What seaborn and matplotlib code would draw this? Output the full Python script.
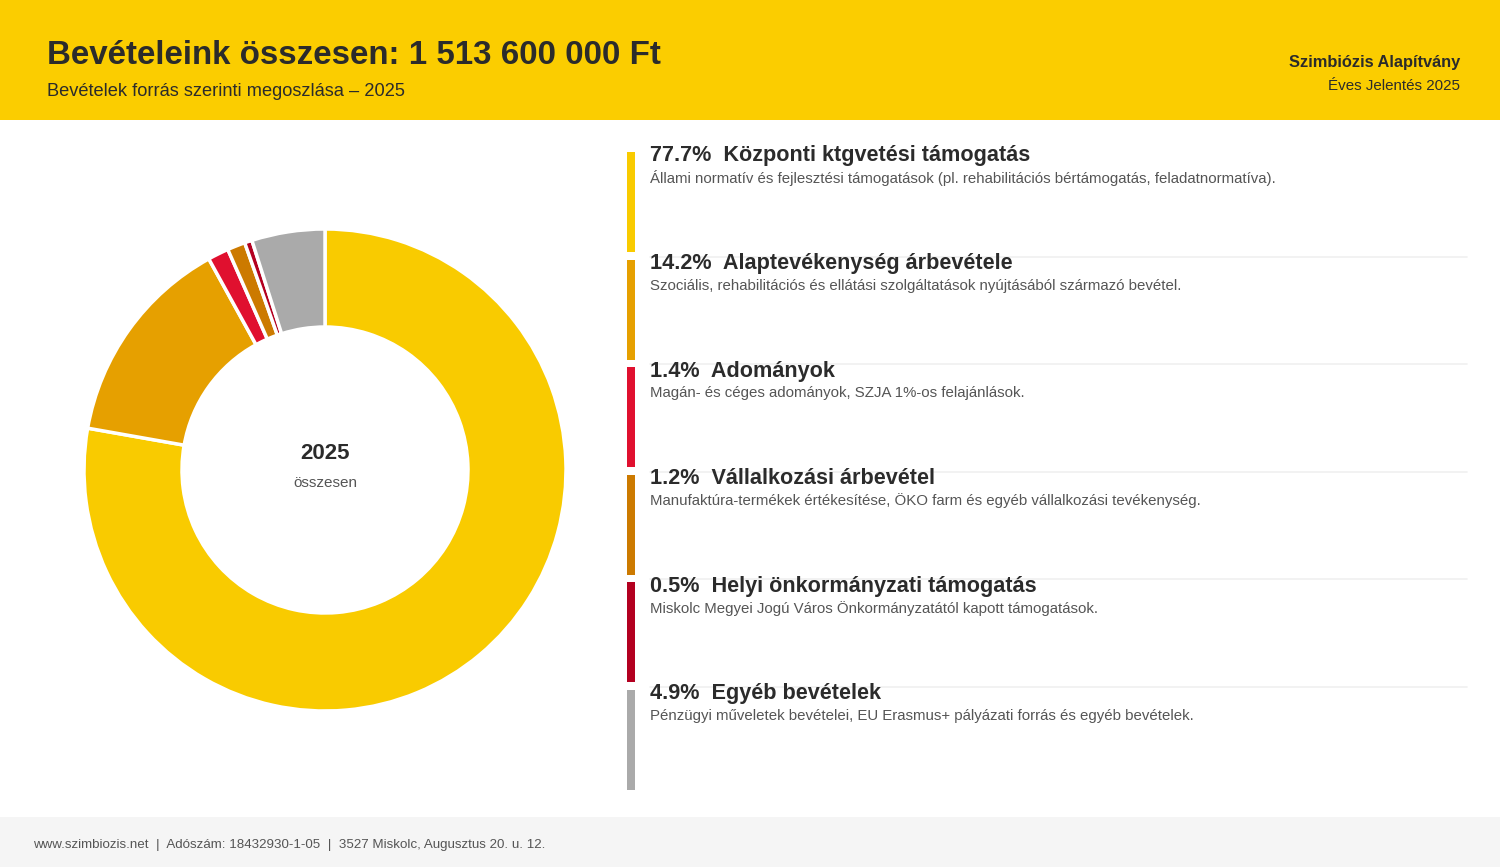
import matplotlib
matplotlib.use("Agg")
import matplotlib.pyplot as plt
from matplotlib.patches import Rectangle
from matplotlib.lines import Line2D
import seaborn as sns

# ---- data ----
categories = [
    "Központi ktgvetési támogatás",
    "Alaptevékenység árbevétele",
    "Adományok",
    "Vállalkozási árbevétel",
    "Helyi önkormányzati támogatás",
    "Egyéb bevételek",
]
shares = [77.7, 14.2, 1.4, 1.2, 0.5, 4.9]
descriptions = [
    "Állami normatív és fejlesztési támogatások (pl. rehabilitációs bértámogatás, feladatnormatíva).",
    "Szociális, rehabilitációs és ellátási szolgáltatások nyújtásából származó bevétel.",
    "Magán- és céges adományok, SZJA 1%-os felajánlások.",
    "Manufaktúra-termékek értékesítése, ÖKO farm és egyéb vállalkozási tevékenység.",
    "Miskolc Megyei Jogú Város Önkormányzatától kapott támogatások.",
    "Pénzügyi műveletek bevételei, EU Erasmus+ pályázati forrás és egyéb bevételek.",
]
colors = ["#F9CB00", "#E6A000", "#E0102F", "#CC7A00", "#B30020", "#AAAAAA"]

title = "Bevételeink összesen: 1 513 600 000 Ft"
subtitle = "Bevételek forrás szerinti megoszlása – 2025"
org = "Szimbiózis Alapítvány"
report = "Éves Jelentés 2025"
center_big = "2025"
center_small = "összesen"
footer = "www.szimbiozis.net  |  Adószám: 18432930-1-05  |  3527 Miskolc, Augusztus 20. u. 12."

# ---- style ----
sns.set_theme(style="white")
plt.rcParams["font.family"] = ["Liberation Sans", "DejaVu Sans"]
palette = sns.color_palette(colors)

W, H = 1500, 867
fig = plt.figure(figsize=(W / 100, H / 100), dpi=100)
fig.patch.set_facecolor("white")


def fx(x):
    return x / W


def fy(y):
    return 1 - y / H


# header band
fig.add_artist(Rectangle((0, fy(120)), 1, 120 / H, transform=fig.transFigure,
                         facecolor="#FBCD00", edgecolor="none", zorder=0))
# footer band
fig.add_artist(Rectangle((0, 0), 1, 50 / H, transform=fig.transFigure,
                         facecolor="#F5F5F5", edgecolor="none", zorder=0))

fig.text(fx(47), fy(56), title, fontsize=23.9, fontweight="bold", color="#2B2B2B",
         ha="left", va="center")
fig.text(fx(47), fy(92), subtitle, fontsize=13.15, color="#2B2B2B", ha="left", va="center")
fig.text(fx(1460), fy(62), org, fontsize=11.8, fontweight="bold", color="#2B2B2B",
         ha="right", va="center")
fig.text(fx(1460), fy(86), report, fontsize=10.9, color="#2B2B2B", ha="right", va="center")

fig.text(fx(33), fy(845), footer, fontsize=9.6, color="#555555", ha="left", va="center")

# ---- donut ----
cx, cy, R = 325, 470, 241
ax = fig.add_axes([fx(cx - R), fy(cy + R), 2 * R / W, 2 * R / H])
ax.pie(shares, colors=palette, startangle=90, counterclock=False, radius=1.0,
       wedgeprops=dict(width=(241 - 143) / 241, edgecolor="white", linewidth=2.5))
ax.set_xlim(-1.0, 1.0)
ax.set_ylim(-1.0, 1.0)
ax.set_aspect("equal")
ax.axis("off")
ax.text(0, 0.07, center_big, fontsize=16, fontweight="bold", color="#2B2B2B",
        ha="center", va="center")
ax.text(0, -0.055, center_small, fontsize=11, color="#555555", ha="center", va="center")

# ---- legend list ----
step = 107.6
for i, (cat, s, d, c) in enumerate(zip(categories, shares, descriptions, palette)):
    top = 152 + i * step
    fig.add_artist(Rectangle((fx(627), fy(top + 100)), 8 / W, 100 / H,
                             transform=fig.transFigure, facecolor=c, edgecolor="none"))
    if i > 0:
        fig.add_artist(Line2D([fx(650), fx(1467)], [fy(top - 3), fy(top - 3)],
                              transform=fig.transFigure, color="#F0F0F0", linewidth=1.2))
    fig.text(fx(650), fy(top + 4), f"{s:.1f}%  {cat}", fontsize=15.55, fontweight="bold",
             color="#2B2B2B", ha="left", va="center")
    fig.text(fx(650), fy(top + 26), d, fontsize=10.8, color="#555555",
             ha="left", va="center")

fig.savefig("out.png", dpi=100)
